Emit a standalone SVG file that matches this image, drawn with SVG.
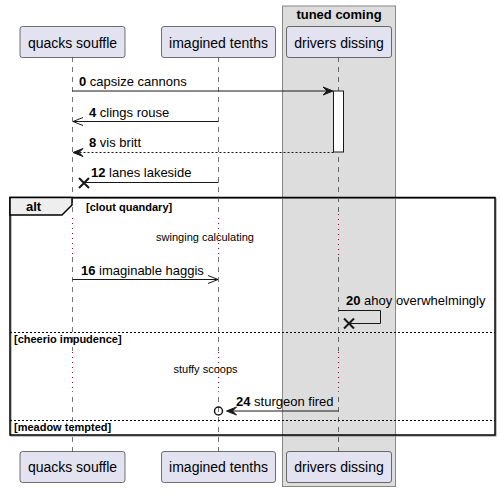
<svg xmlns="http://www.w3.org/2000/svg" width="500" height="492" viewBox="0 0 500 492">
<style>
text{font-family:"Liberation Sans",Arial,sans-serif;fill:#000}
.p rect{fill:#E2E2F0;stroke:#181818;stroke-width:0.6}
.p text{font-size:14px}
.life{stroke:#181818;stroke-width:0.6;stroke-dasharray:5,5}
.delay{stroke:#A80036;stroke-width:1;stroke-dasharray:1,4}
.msg{stroke:#181818;stroke-width:1;fill:none}
.x{stroke:#181818;stroke-width:2;fill:none}
.dash{stroke-dasharray:2,2}
.m{font-size:13px}
.b{font-weight:bold}
.s{font-size:11px}
.sep{stroke:#000;stroke-width:1;stroke-dasharray:2,2}
</style>
<g id="box-tuned-coming">
<rect x="282.5" y="6" width="113" height="480.5" fill="#DDDDDD" stroke="#888888" stroke-width="1"/>
<text x="339" y="19" class="m b" text-anchor="middle">tuned coming</text>
</g>
<g id="lifelines">
<line class="life" x1="72.5" y1="57" x2="72.5" y2="452"/>
<line class="life" x1="218.5" y1="57" x2="218.5" y2="452"/>
<line class="life" x1="338.5" y1="57" x2="338.5" y2="452"/>
</g>
<g id="delays">
<rect x="68" y="217" width="9" height="40" fill="#fff"/>
<rect x="214" y="217" width="9" height="40" fill="#fff"/>
<rect x="334" y="217" width="9" height="40" fill="#DDDDDD"/>
<line class="delay" x1="72.5" y1="218" x2="72.5" y2="256"/>
<line class="delay" x1="218.5" y1="218" x2="218.5" y2="256"/>
<line class="delay" x1="338.5" y1="214" x2="338.5" y2="256"/>
<text x="205" y="241" class="s" text-anchor="middle">swinging calculating</text>
<rect x="68" y="351" width="9" height="40" fill="#fff"/>
<rect x="214" y="351" width="9" height="40" fill="#fff"/>
<rect x="334" y="351" width="9" height="40" fill="#DDDDDD"/>
<line class="delay" x1="72.5" y1="352" x2="72.5" y2="390"/>
<line class="delay" x1="218.5" y1="352" x2="218.5" y2="390"/>
<line class="delay" x1="338.5" y1="352" x2="338.5" y2="390"/>
<text x="205.5" y="373" class="s" text-anchor="middle">stuffy scoops</text>
</g>
<g id="p-quacks-souffle" class="p">
<rect x="20" y="26.5" width="105" height="31" rx="2.5"/>
<text x="72.5" y="47.5" text-anchor="middle">quacks souffle</text>
<rect x="20" y="451.5" width="105" height="31" rx="2.5"/>
<text x="72.5" y="472" text-anchor="middle">quacks souffle</text>
</g>
<g id="p-imagined-tenths" class="p">
<rect x="161.5" y="26.5" width="114" height="31" rx="2.5"/>
<text x="218.5" y="47.5" text-anchor="middle">imagined tenths</text>
<rect x="161.5" y="451.5" width="114" height="31" rx="2.5"/>
<text x="218.5" y="472" text-anchor="middle">imagined tenths</text>
</g>
<g id="p-drivers-dissing" class="p">
<rect x="286.5" y="26.5" width="105" height="31" rx="2.5"/>
<text x="339" y="47.5" text-anchor="middle">drivers dissing</text>
<rect x="286.5" y="451.5" width="105" height="31" rx="2.5"/>
<text x="339" y="472" text-anchor="middle">drivers dissing</text>
</g>
<g id="activation">
<rect x="333.5" y="91" width="10" height="61" fill="#FFFFFF" stroke="#181818" stroke-width="1"/>
</g>
<g id="alt-frame">
<rect x="11" y="198.5" width="485" height="237.5" fill="none" stroke="#888" stroke-width="1"/>
<rect x="10" y="197.5" width="485" height="237.5" fill="none" stroke="#000" stroke-width="1.5"/>
<polygon points="10,197.5 72,197.5 72,205 62,215 10,215" fill="#EEEEEE" stroke="#000" stroke-width="1.5"/>
<text x="26" y="211" class="m b">alt</text>
<text x="86" y="211" class="s b">[clout quandary]</text>
<line class="sep" x1="10" y1="332.5" x2="495" y2="332.5"/>
<text x="14" y="343" class="s b">[cheerio impudence]</text>
<line class="sep" x1="10" y1="420.5" x2="495" y2="420.5"/>
<text x="14" y="431" class="s b">[meadow tempted]</text>
</g>
<g id="connectors">
<line class="msg" x1="72.5" y1="91" x2="331" y2="91"/>
<polygon points="333,91 323,87 327,91 323,95" fill="#181818" stroke="#181818"/>
<text x="79" y="86" class="m"><tspan class="b">0</tspan> capsize cannons</text>

<line class="msg" x1="218.5" y1="121.5" x2="73.5" y2="121.5"/>
<polyline class="msg" points="83,117.5 73,121.5 83,125.5"/>
<text x="89" y="117" class="m"><tspan class="b">4</tspan> clings rouse</text>

<line class="msg dash" x1="333.5" y1="152.5" x2="76" y2="152.5"/>
<polygon points="73,152.5 83,148.5 79,152.5 83,156.5" fill="#181818" stroke="#181818"/>
<text x="89" y="147" class="m"><tspan class="b">8</tspan> vis britt</text>

<line class="msg" x1="218.5" y1="182.5" x2="84" y2="182.5"/>
<path class="x" d="M79,178 L89,188 M79,188 L89,178"/>
<text x="91" y="177" class="m"><tspan class="b">12</tspan> lanes lakeside</text>

<line class="msg" x1="72.5" y1="279.5" x2="217.5" y2="279.5"/>
<polyline class="msg" points="208,275.5 218,279.5 208,283.5"/>
<text x="81" y="274.5" class="m"><tspan class="b">16</tspan> imaginable haggis</text>

<polyline class="msg" points="338.5,310.5 380.5,310.5 380.5,323.5 349,323.5"/>
<path class="x" d="M344,318.5 L354,328.5 M344,328.5 L354,318.5"/>
<text x="346" y="305" class="m"><tspan class="b">20</tspan> ahoy overwhelmingly</text>

<line class="msg" x1="338.5" y1="411" x2="229" y2="411"/>
<polygon points="226.5,411 236.5,407 232.5,411 236.5,415" fill="#181818" stroke="#181818"/>
<circle cx="218.5" cy="411" r="4" fill="none" stroke="#181818" stroke-width="1.5"/>
<text x="236" y="406" class="m"><tspan class="b">24</tspan> sturgeon fired</text>
</g>
</svg>
